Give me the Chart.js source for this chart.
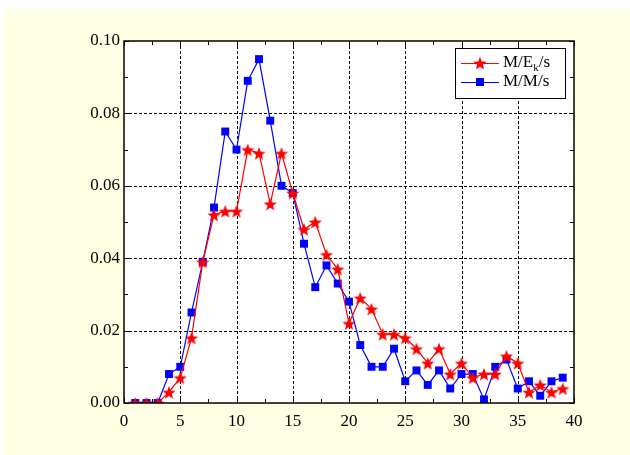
<!DOCTYPE html>
<html>
<head>
<meta charset="utf-8">
<script src="https://cdn.jsdelivr.net/npm/chart.js@4"></script>
<style>
  html, body { margin: 0; padding: 0; background: #ffffff; }
  canvas { display: block; }
</style>
</head>
<body>
<canvas id="chart" width="630" height="455"></canvas>
<script>
// data
const xValues = [1, 2, 3, 4, 5, 6, 7, 8, 9, 10, 11, 12, 13, 14, 15, 16, 17, 18, 19, 20,
    21, 22, 23, 24, 25, 26, 27, 28, 29, 30, 31, 32, 33, 34, 35, 36, 37, 38, 39];
const ekValues = [0, 0, 0, 0.003, 0.007, 0.018, 0.039, 0.052, 0.053, 0.053,
    0.070, 0.069, 0.055, 0.069, 0.058, 0.048, 0.050, 0.041, 0.037, 0.022,
    0.029, 0.026, 0.019, 0.019, 0.018, 0.015, 0.011, 0.015, 0.008, 0.011,
    0.007, 0.008, 0.008, 0.013, 0.011, 0.003, 0.005, 0.003, 0.004];
const mmValues = [0, 0, 0, 0.008, 0.010, 0.025, 0.039, 0.054, 0.075, 0.070,
    0.089, 0.095, 0.078, 0.060, 0.058, 0.044, 0.032, 0.038, 0.033, 0.028,
    0.016, 0.010, 0.010, 0.015, 0.006, 0.009, 0.005, 0.009, 0.004, 0.008,
    0.008, 0.001, 0.010, 0.012, 0.004, 0.006, 0.002, 0.006, 0.007];
const xTicks = [0, 5, 10, 15, 20, 25, 30, 35, 40];
const yTicks = [0, 0.02, 0.04, 0.06, 0.08, 0.10];

const FONT = '"Liberation Serif", "Times New Roman", serif';

// filled five point star used as marker
function makeStar(size, color) {
    const c = document.createElement('canvas');
    c.width = size; c.height = size;
    const g = c.getContext('2d');
    const cx = size / 2, cy = size / 2 + 0.8;
    const R = size / 2, r = R * 0.42;
    g.beginPath();
    for (let i = 0; i < 10; i++) {
        const rad = (i % 2 === 0) ? R : r;
        const a = -Math.PI / 2 + i * Math.PI / 5;
        const px = cx + rad * Math.cos(a), py = cy + rad * Math.sin(a);
        if (i === 0) g.moveTo(px, py); else g.lineTo(px, py);
    }
    g.closePath();
    g.fillStyle = color;
    g.fill();
    return c;
}
const starImg = makeStar(14, '#ff0000');

const pageDeco = {
    id: 'pageDeco',
    beforeDraw(chart) {
        const ctx = chart.ctx, a = chart.chartArea;
        ctx.save();
        ctx.fillStyle = '#ffffe3';
        ctx.fillRect(4, 9, chart.width - 4, chart.height - 9);
        ctx.fillStyle = '#ffffff';
        ctx.fillRect(a.left, a.top, a.right - a.left, a.bottom - a.top);
        ctx.restore();
    },
    beforeDatasetsDraw(chart) {
        // dashed grid
        const ctx = chart.ctx, a = chart.chartArea;
        const xs = chart.scales.x, ys = chart.scales.y;
        ctx.save();
        ctx.strokeStyle = '#000';
        ctx.lineWidth = 1;
        ctx.setLineDash([3, 2]);
        ctx.beginPath();
        xTicks.slice(1, -1).forEach(v => {
            const px = Math.round(xs.getPixelForValue(v)) + 0.5;
            ctx.moveTo(px, a.top); ctx.lineTo(px, a.bottom);
        });
        yTicks.slice(1, -1).forEach(v => {
            const py = Math.round(ys.getPixelForValue(v)) + 0.5;
            ctx.moveTo(a.left, py); ctx.lineTo(a.right, py);
        });
        ctx.stroke();
        ctx.restore();
    },
    afterDatasetsDraw(chart) {
        const ctx = chart.ctx, a = chart.chartArea;
        const xs = chart.scales.x, ys = chart.scales.y;
        ctx.save();
        ctx.strokeStyle = '#000';
        ctx.lineWidth = 1.5;
        ctx.strokeRect(a.left, a.top, a.right - a.left, a.bottom - a.top);
        ctx.lineWidth = 1;
        ctx.beginPath();
        // inward ticks on all sides
        for (let v = 0; v <= 40; v += 2.5) {
            const px = Math.round(xs.getPixelForValue(v)) + 0.5;
            const len = (v % 5 === 0) ? 5 : 4;
            ctx.moveTo(px, a.bottom); ctx.lineTo(px, a.bottom - len);
            ctx.moveTo(px, a.top); ctx.lineTo(px, a.top + len);
        }
        for (let i = 0; i <= 10; i++) {
            const py = Math.round(ys.getPixelForValue(i * 0.01)) + 0.5;
            const len = (i % 2 === 0) ? 5 : 4;
            ctx.moveTo(a.left, py); ctx.lineTo(a.left + len, py);
            ctx.moveTo(a.right, py); ctx.lineTo(a.right - len, py);
        }
        ctx.stroke();

        // legend with subscript
        const bx = 455, by = 48, bw = 110, bh = 50;
        ctx.fillStyle = '#ffffff';
        ctx.fillRect(bx, by, bw, bh);
        ctx.strokeStyle = '#000';
        ctx.strokeRect(bx + 0.5, by + 0.5, bw, bh);
        const rows = [
            { y: 63, color: '#ff0000' },
            { y: 82, color: '#0000ff' }
        ];
        rows.forEach((r, i) => {
            ctx.strokeStyle = r.color;
            ctx.beginPath();
            ctx.moveTo(461, r.y + 0.5); ctx.lineTo(499, r.y + 0.5);
            ctx.stroke();
            if (i === 0) {
                ctx.drawImage(starImg, 480 - 7, r.y - 7);
            } else {
                ctx.fillStyle = r.color;
                ctx.fillRect(476, r.y - 4, 8, 8);
            }
        });
        ctx.fillStyle = '#000';
        ctx.textBaseline = 'middle';
        ctx.textAlign = 'left';
        ctx.font = '17px ' + FONT;
        let tx = 503;
        ctx.fillText('M/E', tx, rows[0].y);
        tx += ctx.measureText('M/E').width;
        ctx.font = '11px ' + FONT;
        ctx.fillText('k', tx, rows[0].y + 5);
        tx += ctx.measureText('k').width;
        ctx.font = '17px ' + FONT;
        ctx.fillText('/s', tx, rows[0].y);
        ctx.fillText('M/M/s', 503, rows[1].y);
        ctx.restore();
    }
};

function draw() {
    new Chart(document.getElementById('chart').getContext('2d'), {
        type: 'line',
        data: {
            datasets: [
                {
                    label: 'M/Ek/s',
                    data: xValues.map((x, i) => ({ x: x, y: ekValues[i] })),
                    borderColor: '#ff0000',
                    backgroundColor: '#ff0000',
                    borderWidth: 1.2,
                    pointStyle: starImg,
                    tension: 0
                },
                {
                    label: 'M/M/s',
                    data: xValues.map((x, i) => ({ x: x, y: mmValues[i] })),
                    borderColor: '#0000ff',
                    backgroundColor: '#0000ff',
                    borderWidth: 1.2,
                    pointStyle: 'rect',
                    pointRadius: 5.6,
                    pointBorderWidth: 0,
                    tension: 0
                }
            ]
        },
        options: {
            responsive: false,
            animation: false,
            layout: { padding: { top: 41, right: 56, left: 0, bottom: 0 } },
            plugins: {
                legend: { display: false },
                tooltip: { enabled: false }
            },
            scales: {
                x: {
                    type: 'linear',
                    min: 0,
                    max: 40,
                    afterFit(scale) { scale.height = 52; },
                    afterBuildTicks(scale) { scale.ticks = xTicks.map(v => ({ value: v })); },
                    grid: { display: false, drawTicks: false },
                    border: { display: false },
                    ticks: {
                        padding: 8,
                        color: '#000',
                        font: { family: FONT, size: 17 },
                        maxRotation: 0
                    }
                },
                y: {
                    min: 0,
                    max: 0.10,
                    afterFit(scale) { scale.width = 124; },
                    afterBuildTicks(scale) { scale.ticks = yTicks.map(v => ({ value: v })); },
                    grid: { display: false, drawTicks: false },
                    border: { display: false },
                    ticks: {
                        padding: 4,
                        color: '#000',
                        font: { family: FONT, size: 17 },
                        callback: v => v.toFixed(2)
                    }
                }
            }
        },
        plugins: [pageDeco]
    });
}

document.fonts.load('17px "Liberation Serif"').then(draw, draw);
</script>
</body>
</html>
